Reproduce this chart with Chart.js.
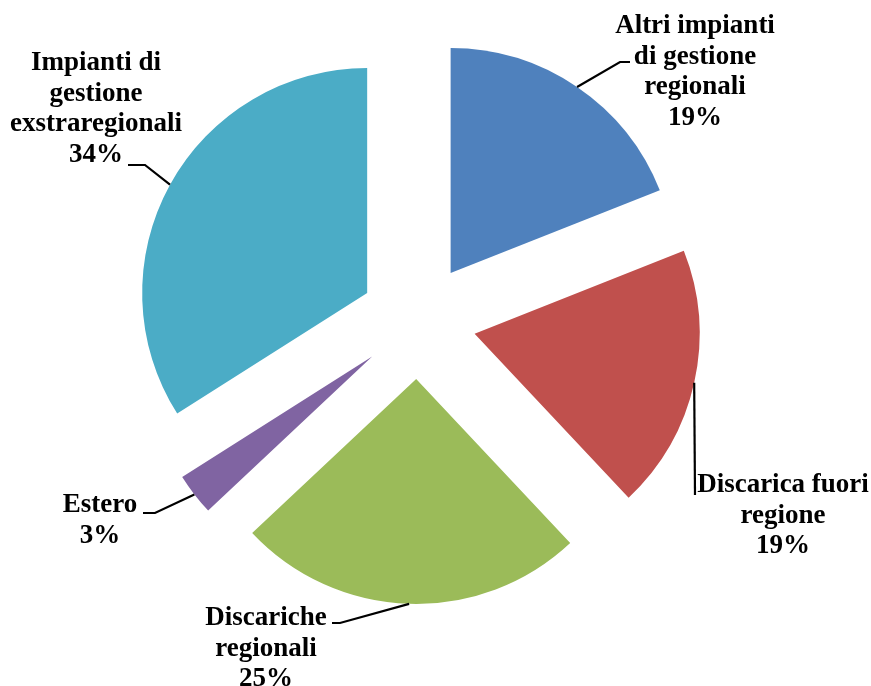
<!DOCTYPE html>
<html>
<head>
<meta charset="utf-8">
<script src="https://cdn.jsdelivr.net/npm/chart.js@4.4.1/dist/chart.umd.min.js"></script>
<style>
    html, body { margin: 0; padding: 0; background: #fff; }
    #wrap { width: 871px; height: 686px; position: relative; }
</style>
</head>
<body>
<div id="wrap"><canvas id="pie"></canvas></div>
<script>
// Destinazione dei rifiuti
const categories = [
    ['Altri impianti', 'di gestione', 'regionali'],
    ['Discarica fuori', 'regione'],
    ['Discariche', 'regionali'],
    ['Estero'],
    ['Impianti di', 'gestione', 'exstraregionali']
];
const shares = [19, 19, 25, 3, 34];
const colors = ['#4F81BD', '#C0504D', '#9BBB59', '#8064A2', '#4BACC6'];

// How far each slice is pulled away from the centre
const EXPLODE = 58;

// Label text position (centre x, first baseline) and leader line bends
const labelLayout = [
    { x: 695, y: 33,  elbow: [620, 62],  end: [630, 62] },
    { x: 783, y: 492, elbow: [695, 495], end: null },
    { x: 266, y: 625, elbow: [340, 623], end: [332, 623] },
    { x: 100, y: 512, elbow: [155, 513], end: [143, 513] },
    { x: 96,  y: 70,  elbow: [145, 165], end: [128, 165] }
];
const LINE_H = 30.5;

function sliceCentre(arc) {
    const mid = (arc.startAngle + arc.endAngle) / 2;
    return { mid, x: arc.x + Math.cos(mid) * EXPLODE, y: arc.y + Math.sin(mid) * EXPLODE };
}

// Draw every arc shifted outwards along its bisector
const explodePlugin = {
    id: 'explode',
    beforeDatasetDraw(chart, args) {
        const ctx = chart.ctx;
        args.meta.data.forEach(arc => {
            const c = sliceCentre(arc);
            ctx.save();
            ctx.translate(c.x - arc.x, c.y - arc.y);
            arc.draw(ctx);
            ctx.restore();
        });
        return false;
    }
};

// Category names, percentages and leader lines
const labelPlugin = {
    id: 'sliceLabels',
    afterDraw(chart) {
        const ctx = chart.ctx;
        const arcs = chart.getDatasetMeta(0).data;
        ctx.save();
        ctx.font = 'bold 27px "Liberation Serif", "Times New Roman", serif';
        ctx.fillStyle = '#000';
        ctx.strokeStyle = '#000';
        ctx.lineWidth = 2.2;
        ctx.textAlign = 'center';
        ctx.textBaseline = 'alphabetic';

        arcs.forEach((arc, i) => {
            const lay = labelLayout[i];
            const c = sliceCentre(arc);
            const r = arc.outerRadius;
            ctx.beginPath();
            ctx.moveTo(c.x + Math.cos(c.mid) * r, c.y + Math.sin(c.mid) * r);
            ctx.lineTo(lay.elbow[0], lay.elbow[1]);
            if (lay.end) ctx.lineTo(lay.end[0], lay.end[1]);
            ctx.stroke();

            const lines = categories[i].concat([shares[i] + '%']);
            lines.forEach((t, k) => ctx.fillText(t, lay.x, lay.y + k * LINE_H));
        });
        ctx.restore();
    }
};

new Chart(document.getElementById('pie'), {
    type: 'pie',
    data: {
        labels: categories.map(c => c.join(' ')),
        datasets: [{
            data: shares,
            backgroundColor: colors,
            borderWidth: 0
        }]
    },
    options: {
        responsive: true,
        maintainAspectRatio: false,
        animation: false,
        radius: 225,
        layout: { padding: { left: 0, right: 35, top: 0, bottom: 44 } },
        plugins: {
            legend: { display: false },
            tooltip: { enabled: false }
        }
    },
    plugins: [explodePlugin, labelPlugin]
});
</script>
</body>
</html>
